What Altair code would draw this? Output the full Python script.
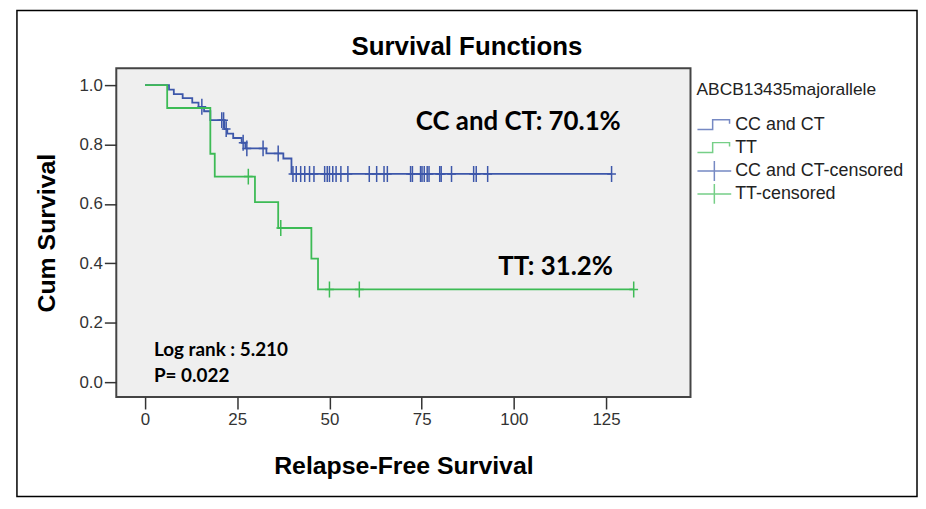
import altair as alt
import pandas as pd

BLUE = "#3D57AA"
GREEN = "#3DBB55"

# ---- Kaplan-Meier step curves (time, cumulative survival) ----
cc_times = [0, 6.5, 7.8, 10.2, 12.8, 14.5, 16.0, 17.7, 21.5, 22.3, 23.9, 26.2, 27.2, 32.9, 37.5, 39.7, 126.5]
cc_surv = [1.0, 0.985, 0.970, 0.956, 0.941, 0.927, 0.912, 0.882, 0.852, 0.837, 0.822, 0.806, 0.787, 0.770, 0.753, 0.701, 0.701]

tt_times = [0, 6.0, 17.7, 18.9, 29.8, 36.1, 45.1, 46.9, 132.5]
tt_surv = [1.0, 0.923, 0.769, 0.692, 0.606, 0.519, 0.416, 0.312, 0.312]

# ---- censored observations ----
cc_cens_times = [15.4, 20.8, 21.3, 22.0, 26.6, 27.6, 32.0, 36.1,
                 40.1, 41.0, 42.2, 43.3, 44.6, 45.8, 48.7, 49.4, 50.0, 50.9,
                 51.8, 53.1, 55.0, 60.8, 62.8, 64.8, 65.7, 72.0, 72.5, 74.7,
                 75.1, 75.7, 76.5, 77.0, 79.9, 80.3, 83.1, 89.1, 89.8, 92.9, 126.5]
cc_cens_surv = [0.927, 0.882, 0.882, 0.852, 0.806, 0.787, 0.787, 0.770,
                0.701, 0.701, 0.701, 0.701, 0.701, 0.701, 0.701, 0.701, 0.701, 0.701,
                0.701, 0.701, 0.701, 0.701, 0.701, 0.701, 0.701, 0.701, 0.701, 0.701,
                0.701, 0.701, 0.701, 0.701, 0.701, 0.701, 0.701, 0.701, 0.701, 0.701, 0.701]

tt_cens_times = [28.0, 36.8, 50.0, 58.1, 132.5]
tt_cens_surv = [0.692, 0.519, 0.312, 0.312, 0.312]

series_names = ["CC and CT", "TT", "CC and CT-censored", "TT-censored"]
series_colors = [BLUE, GREEN, BLUE, GREEN]

x_ticks = [0, 25, 50, 75, 100, 125]
y_ticks = [0.0, 0.2, 0.4, 0.6, 0.8, 1.0]

big_labels = ["CC and CT: 70.1%", "TT: 31.2%"]
big_t = [101.2, 111.3]
big_s = [0.876, 0.388]

stat_labels = ["Log rank : 5.210", "P= 0.022"]
stat_t = [2.4, 2.4]
stat_s = [0.107, 0.020]

STEP_PATH = "M-1,0.25H-0.1V-0.33H0.9V-0.1"
CROSS_LEG = "M-1,0H1M0,-0.6V0.6"
CROSS_PT = "M0,-1V1M-0.55,0H0.55"

cc_df = pd.DataFrame({"t": cc_times, "S": cc_surv})
tt_df = pd.DataFrame({"t": tt_times, "S": tt_surv})
cc_c_df = pd.DataFrame({"t": cc_cens_times, "S": cc_cens_surv})
tt_c_df = pd.DataFrame({"t": tt_cens_times, "S": tt_cens_surv})
leg_df = pd.DataFrame({"series": series_names, "t": [0, 0, 0, 0], "S": [1.0, 1.0, 1.0, 1.0]})
big_df = pd.DataFrame({"t": big_t, "S": big_s, "label": big_labels})
stat_df = pd.DataFrame({"t": stat_t, "S": stat_s, "label": stat_labels})

FONT = "Liberation Sans"

x_enc = alt.X(
    "t:Q",
    scale=alt.Scale(domain=[-7.8, 147.9], nice=False, zero=False),
    axis=alt.Axis(values=x_ticks, format="d", title="Relapse-Free Survival",
                  domain=False, grid=False, tickSize=12, tickWidth=1.5, tickColor="#333333",
                  labelFont=FONT, labelFontSize=17, labelColor="#333333", labelPadding=3,
                  titleFont=FONT, titleFontSize=25, titleFontWeight="bold", titleColor="#000000",
                  titlePadding=26),
)
y_enc = alt.Y(
    "S:Q",
    scale=alt.Scale(domain=[-0.0502, 1.0569], nice=False, zero=False),
    axis=alt.Axis(values=y_ticks, format=".1f", title="Cum Survival",
                  domain=False, grid=False, tickSize=12, tickWidth=1.5, tickColor="#333333",
                  labelFont=FONT, labelFontSize=17, labelColor="#333333", labelPadding=2,
                  titleFont=FONT, titleFontSize=25, titleFontWeight="bold", titleColor="#000000",
                  titlePadding=20),
)

border = alt.Chart(pd.DataFrame({"k": [0]})).mark_rect(
    fillOpacity=0, stroke="#000000", strokeWidth=1.5
).encode(x=alt.value(-100), x2=alt.value(806), y=alt.value(-58), y2=alt.value(431))

cc_line = alt.Chart(cc_df).mark_line(interpolate="step-after", color=BLUE, strokeWidth=1.8).encode(x=x_enc, y=y_enc)
tt_line = alt.Chart(tt_df).mark_line(interpolate="step-after", color=GREEN, strokeWidth=1.8).encode(x=x_enc, y=y_enc)

cc_pts = alt.Chart(cc_c_df).mark_point(shape=CROSS_PT, size=256, filled=False, color=BLUE,
                                       strokeWidth=1.5, opacity=1).encode(x=x_enc, y=y_enc)
tt_pts = alt.Chart(tt_c_df).mark_point(shape=CROSS_PT, size=256, filled=False, color=GREEN,
                                       strokeWidth=1.5, opacity=1).encode(x=x_enc, y=y_enc)

legend = alt.Legend(
    title="ABCB13435majorallele", orient="none", legendX=584, legendY=13, direction="vertical",
    symbolSize=1156, clipHeight=20, rowPadding=3, symbolStrokeWidth=1.5,
    labelFont=FONT, labelFontSize=18, labelColor="#222222", labelOffset=3, labelLimit=300,
    titleFont=FONT, titleFontSize=17.5, titleFontWeight="normal", titleColor="#222222",
    titlePadding=17, titleLimit=300,
)
leg_layer = alt.Chart(leg_df).mark_point(size=0, filled=False, strokeWidth=1.5).encode(
    x=x_enc, y=y_enc,
    color=alt.Color("series:N", scale=alt.Scale(domain=series_names, range=series_colors), legend=legend),
    shape=alt.Shape("series:N", scale=alt.Scale(domain=series_names,
                                                range=[STEP_PATH, STEP_PATH, CROSS_LEG, CROSS_LEG]),
                    legend=legend),
)

big_text = alt.Chart(big_df).mark_text(font="Lato", fontSize=26, fontWeight="bold", align="center",
                                       baseline="middle", color="#000000").encode(x=x_enc, y=y_enc, text="label:N")
stat_text = alt.Chart(stat_df).mark_text(font="Lato", fontSize=19, fontWeight="bold", align="left",
                                         baseline="middle", color="#000000").encode(x=x_enc, y=y_enc, text="label:N")

chart = alt.layer(border, cc_line, cc_pts, tt_line, tt_pts, leg_layer, big_text, stat_text).properties(
    width=578, height=331,
    padding={"left": 8, "top": 0, "right": 0, "bottom": 0},
    title=alt.TitleParams("Survival Functions", font=FONT, fontSize=26, fontWeight="bold",
                          color="#000000", offset=-50, frame="bounds", anchor="middle"),
).configure_view(fill="#EFEFEF", stroke="#444444", strokeWidth=2)

chart.save("out.html", embed_options={"renderer": "svg", "actions": False})
